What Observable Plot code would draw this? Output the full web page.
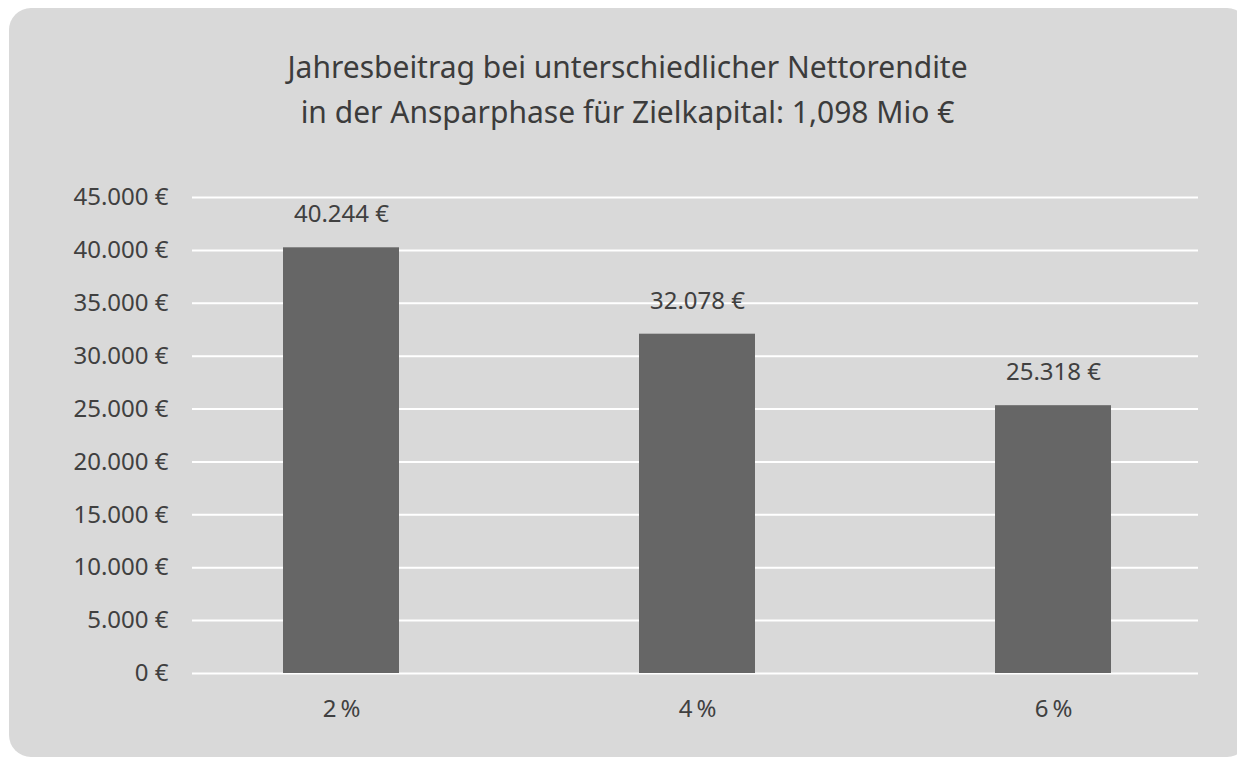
<!DOCTYPE html>
<html><head><meta charset="utf-8">
<script src="https://cdn.jsdelivr.net/npm/d3@7"></script>
<script src="https://cdn.jsdelivr.net/npm/@observablehq/plot@0.6"></script>
<style>
html,body{margin:0;padding:0;background:#fff;width:1237px;height:758px;overflow:hidden;}
#panel{position:absolute;left:9px;top:8px;width:1240px;height:749px;background:#d9d9d9;border-radius:22px;}
#title{position:absolute;left:9px;top:44px;width:1237px;text-align:center;font-family:"Noto Sans",sans-serif;font-size:30px;line-height:45px;color:#3c3c3c;}
#chart{position:absolute;left:0;top:170px;}
svg{overflow:visible}
</style></head>
<body>
<div id="panel"></div>
<div id="title">Jahresbeitrag bei unterschiedlicher Nettorendite<br>in der Ansparphase für Zielkapital: 1,098 Mio €</div>
<div id="chart"></div>
<script>
const categories = ["2\u2009%", "4\u2009%", "6\u2009%"];
const values = [40244, 32078, 25318];
const yTicks = [0, 5000, 10000, 15000, 20000, 25000, 30000, 35000, 40000, 45000];

const de = d3.formatLocale({decimal: ",", thousands: ".", grouping: [3], currency: ["", " €"]});
const fmt = v => de.format(",.0f")(v) + " €";
const data = categories.map((c, i) => ({cat: c, value: values[i]}));

const chart = Plot.plot({
  width: 1237,
  height: 590,
  marginLeft: 192,
  marginRight: 39,
  marginTop: 27,
  marginBottom: 87,
  style: {fontFamily: "'Noto Sans', sans-serif", fontSize: "24px", color: "#404040", background: "transparent"},
  x: {domain: categories, paddingInner: 0.675, paddingOuter: 0.25, align: 0.511, label: null, tickSize: 0, tickPadding: 26},
  y: {domain: [0, 45000], ticks: yTicks, tickFormat: fmt, label: null, tickSize: 0, tickPadding: 24},
  marks: [
    Plot.ruleY(yTicks, {stroke: "#ffffff", strokeWidth: 2}),
    Plot.barY(data, {x: "cat", y: "value", fill: "#666666"}),
    Plot.text(data, {x: "cat", y: "value", text: d => fmt(d.value), dy: -33, fontSize: 24, fill: "#404040"})
  ]
});
document.getElementById("chart").appendChild(chart);
</script>
</body></html>
